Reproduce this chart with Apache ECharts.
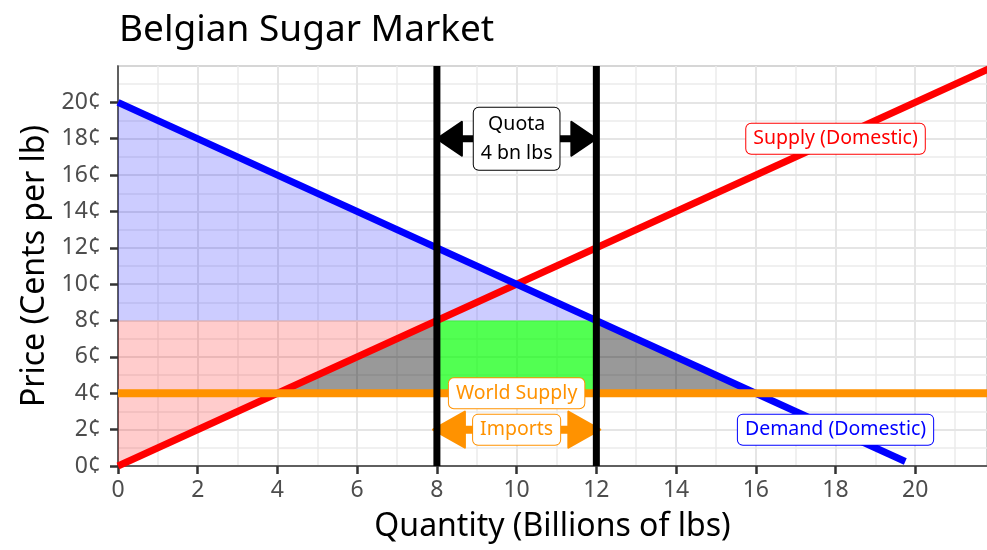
<!DOCTYPE html>
<html>
<head>
<meta charset="utf-8">
<script src="https://cdn.jsdelivr.net/npm/echarts@6/dist/echarts.min.js"></script>
<style>
  html, body { margin: 0; padding: 0; background: #fff; }
  #chart { width: 987px; height: 550px; }
</style>
</head>
<body>
<div id="chart"></div>
<script>
// axis ticks
var xTicks = [0, 2, 4, 6, 8, 10, 12, 14, 16, 18, 20];
var yTicks = [0, 2, 4, 6, 8, 10, 12, 14, 16, 18, 20];

// curves
var supplyQ = [0, 22];
var supplyP = [0, 22];
var demandQ = [0, 19.75];
var demandP = [20, 0.25];
var worldQ = [0, 22];
var worldP = [4, 4];
var quotaQ = [8, 12];

// shaded areas
var csQ = [0, 12, 0];
var csP = [20, 8, 8];
var psQ = [0, 8, 0];
var psP = [0, 8, 8];
var dwlLeftQ = [4, 8, 8];
var dwlLeftP = [4, 8, 4];
var dwlRightQ = [12, 16, 12];
var dwlRightP = [8, 4, 4];
var rentQ = [8, 12, 12, 8];
var rentP = [4, 4, 8, 8];

// arrows
var quotaArrowQ = [8, 12];
var quotaArrowP = 18;
var importsArrowQ = [7.9, 12.1];
var importsArrowP = 2;

// labels
var labelText = ['Quota\n4 bn lbs', 'Supply (Domestic)', 'World Supply', 'Imports', 'Demand (Domestic)'];
var labelQ = [10, 18, 10, 10, 18];
var labelP = [18, 18, 4, 2, 2];
var labelColor = ['#000000', '#ff0000', '#ff9200', '#ff9200', '#0000ff'];

var FONT = '"Noto Sans", sans-serif';

function zip(a, b) {
  return a.map(function (v, i) { return [v, b[i]]; });
}

function poly(qs, ps, color) {
  return {
    type: 'custom',
    silent: true,
    data: zip(qs, ps),
    renderItem: function (params, api) {
      if (params.dataIndex !== 0) return;
      var pts = qs.map(function (q, i) { return api.coord([q, ps[i]]); });
      return { type: 'polygon', shape: { points: pts }, style: { fill: color } };
    }
  };
}

// horizontal double headed arrow, tips at the two data points
function arrow(qs, p, color, shaft, headLen, headW) {
  return {
    type: 'custom',
    silent: true,
    data: qs.map(function (q) { return [q, p]; }),
    renderItem: function (params, api) {
      if (params.dataIndex !== 0) return;
      var a = api.coord([qs[0], p]);
      var b = api.coord([qs[1], p]);
      var headStyle = { fill: color, stroke: color, lineWidth: 2, lineJoin: 'round' };
      return {
        type: 'group',
        children: [
          { type: 'line', shape: { x1: a[0] + headLen - 2, y1: a[1], x2: b[0] - headLen + 2, y2: b[1] },
            style: { stroke: color, lineWidth: shaft } },
          { type: 'polygon', shape: { points: [a, [a[0] + headLen, a[1] - headW / 2], [a[0] + headLen, a[1] + headW / 2]] },
            style: headStyle },
          { type: 'polygon', shape: { points: [b, [b[0] - headLen, b[1] - headW / 2], [b[0] - headLen, b[1] + headW / 2]] },
            style: headStyle }
        ]
      };
    }
  };
}

function lineSeries(qs, ps, color, width) {
  return {
    type: 'line',
    data: zip(qs, ps),
    showSymbol: false,
    silent: true,
    lineStyle: { color: color, width: width, cap: 'butt' }
  };
}

var chart = echarts.init(document.getElementById('chart'));

var series = [
  lineSeries(supplyQ, supplyP, '#ff0000', 7),
  lineSeries(demandQ, demandP, '#0000ff', 7),
  poly(csQ, csP, 'rgba(0,0,255,0.2)'),
  poly(psQ, psP, 'rgba(255,0,0,0.2)'),
  poly(dwlLeftQ, dwlLeftP, 'rgba(0,0,0,0.4)'),
  poly(dwlRightQ, dwlRightP, 'rgba(0,0,0,0.4)'),
  poly(rentQ, rentP, 'rgba(0,255,0,0.68)'),
  lineSeries(worldQ, worldP, '#ff9200', 8),
  lineSeries([quotaQ[0], quotaQ[0]], [0, 22], '#000000', 7),
  lineSeries([quotaQ[1], quotaQ[1]], [0, 22], '#000000', 7),
  arrow(quotaArrowQ, quotaArrowP, '#000000', 7, 25, 34),
  arrow(importsArrowQ, importsArrowP, '#ff9200', 8, 32, 36),
  {
    type: 'scatter',
    silent: true,
    z: 10,
    symbolSize: 0,
    itemStyle: { opacity: 1 },
    data: labelText.map(function (t, i) {
      return {
        value: [labelQ[i], labelP[i]],
        label: {
          show: true,
          position: 'inside',
          formatter: t,
          color: labelColor[i],
          borderColor: labelColor[i],
          fontSize: 19.5,
          fontFamily: FONT,
          lineHeight: i === 0 ? 29 : 26,
          backgroundColor: '#fff',
          borderWidth: 1,
          borderRadius: 5,
          padding: [2, 7]
        }
      };
    })
  }
];

var option = {
  animation: false,
  backgroundColor: '#fff',
  title: {
    text: 'Belgian Sugar Market',
    left: 114,
    top: 7,
    textStyle: { fontSize: 37, fontWeight: 'normal', color: '#000', fontFamily: FONT }
  },
  grid: {
    left: 118, right: -2, top: 66, bottom: 84,
    show: true, borderColor: '#333', borderWidth: 1.2,
    containLabel: false
  },
  xAxis: [
    {
      type: 'value', min: 0, max: 21.8, interval: 2,
      name: 'Quantity (Billions of lbs)', nameLocation: 'middle', nameGap: 45,
      nameTextStyle: { fontSize: 32, color: '#000', fontFamily: FONT },
      axisLine: { show: true, onZero: false, lineStyle: { color: '#333', width: 1.5 } },
      axisTick: { show: true, length: 8, customValues: xTicks, lineStyle: { color: '#333', width: 2.5 } },
      axisLabel: { customValues: xTicks, fontSize: 23, color: '#4d4d4d', margin: 13, fontFamily: FONT },
      splitLine: { show: true, lineStyle: { color: '#e5e5e5', width: 2 } },
      z: 1
    },
    {
      type: 'value', min: 0, max: 21.8, interval: 1,
      axisLine: { show: false }, axisTick: { show: false }, axisLabel: { show: false },
      splitLine: { show: true, lineStyle: { color: '#ebebeb', width: 1.5 } },
      z: 0
    }
  ],
  yAxis: [
    {
      type: 'value', min: 0, max: 22, interval: 2,
      name: 'Price (Cents per lb)', nameLocation: 'middle', nameGap: 66,
      nameTextStyle: { fontSize: 32, color: '#000', fontFamily: FONT },
      axisLine: { show: true, lineStyle: { color: '#333', width: 1.5 } },
      axisTick: { show: true, length: 8, customValues: yTicks, lineStyle: { color: '#333', width: 2.5 } },
      axisLabel: {
        customValues: yTicks, fontSize: 23, color: '#4d4d4d', margin: 17, fontFamily: FONT,
        formatter: function (v) { return v + '¢'; }
      },
      splitLine: { show: true, lineStyle: { color: '#e5e5e5', width: 2 } },
      z: 1
    },
    {
      type: 'value', min: 0, max: 22, interval: 1,
      axisLine: { show: false }, axisTick: { show: false }, axisLabel: { show: false },
      splitLine: { show: true, lineStyle: { color: '#ebebeb', width: 1.5 } },
      z: 0
    }
  ],
  series: series
};

chart.setOption(option);
</script>
</body>
</html>
